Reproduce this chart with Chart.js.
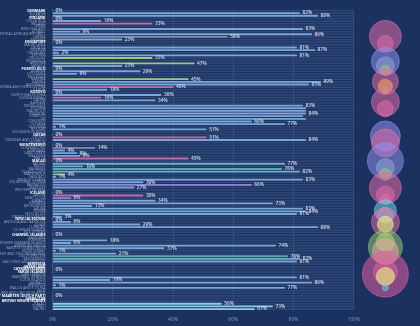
<!DOCTYPE html>
<html>
<head>
<meta charset="utf-8">
<script src="https://cdn.jsdelivr.net/npm/chart.js@4.4.1/dist/chart.umd.min.js"></script>
<style>
  html, body { margin: 0; padding: 0; background: #1b3260; }
  canvas { display: block; }
</style>
</head>
<body>
<canvas id="chart" width="420" height="326"></canvas>
<script>
const countries = [
  'DENMARK', 'SLOVAKIA', 'NORWAY', 'FINLAND', 'COSTA RICA', 'IRELAND', 'OMAN', 'NEW ZEALAND', 'KUWAIT', 'CENTRAL AFRICAN REPUBLIC',
  'LIBERIA', 'PANAMA', 'SINGAPORE', 'MAURITANIA', 'CROATIA', 'GEORGIA', 'PALESTINE', 'ERITREA', 'URUGUAY', 'MONGOLIA',
  'ARMENIA', 'JAMAICA', 'PUERTO RICO', 'ALBANIA', 'LITHUANIA', 'MOLDOVA', 'NAMIBIA', 'GAMBIA', 'BOTSWANA', 'BOSNIA AND HERZEGOVINA',
  'GABON', 'KOSOVO', 'NORTH MACEDONIA', 'GUINEA-BISSAU', 'LATVIA', 'BAHRAIN', 'TIMOR-LESTE', 'ESTONIA', 'MAURITIUS', 'ESWATINI',
  'DJIBOUTI', 'FIJI', 'COMOROS', 'GUYANA', 'SLOVENIA', 'BHUTAN', 'SOLOMON ISLANDS', 'QATAR', 'CYPRUS', 'TRINIDAD AND TOBAGO',
  'REUNION', 'MONTENEGRO', 'LUXEMBOURG', 'SURINAME', 'CABO VERDE', 'MALDIVES', 'MALTA', 'MACAO', 'BRUNEI', 'BELIZE',
  'BAHAMAS', 'GUADELOUPE', 'MARTINIQUE', 'VANUATU', 'FRENCH GUIANA', 'EQUATORIAL GUINEA', 'BARBADOS', 'MAYOTTE', 'WESTERN SAHARA', 'ICELAND',
  'SAMOA', 'SAINT LUCIA', 'KIRIBATI', 'GRENADA', 'MICRONESIA', 'ARUBA', 'TONGA', 'SEYCHELLES', 'FRENCH POLYNESIA', 'NEW CALEDONIA',
  'ANTIGUA AND BARBUDA', 'GUAM', 'CURACAO', 'US VIRGIN ISLANDS', 'ISLE OF MAN', 'CHANNEL ISLANDS', 'ANDORRA', 'DOMINICA', 'NORTHERN MARIANA ISLANDS', 'AMERICAN SAMOA',
  'SAINT KITTS AND NEVIS', 'MONTSERRAT', 'SAINT VINCENT AND THE GRENADINES', 'LIECHTENSTEIN', 'SAN MARINO', 'SAO TOME AND PRINCIPE', 'BERMUDA', 'GREENLAND', 'CAYMAN ISLANDS', 'FAROE ISLANDS',
  'SAINT MARTIN', 'MARSHALL ISLANDS', 'COOK ISLANDS', 'MONACO', 'ANGUILLA', 'WALLIS AND FUTUNA', 'NIUE', 'TURKS AND CAICOS ISLANDS', 'SINT MAARTEN (DUTCH PART)', 'GIBRALTAR',
  'BRITISH VIRGIN ISLANDS', 'PALAU', 'TUVALU', 'NAURU'
];

const shares = [
  0, 82, 88, 0, 16, 33, null, 83, 9, 86,
  58, 23, 0, null, 81, 87, 2, 81, 33, null,
  47, 23, 0, 29, 8, null, 45, 89, 85, 40,
  18, 0, 36, 16, 34, null, 83, 84, 84, 84,
  83, 84, 66, 77, 1, 51, null, 0, 51, 84,
  null, 0, 14, 4, 8, 9, 45, 0, 77, 10,
  76, 82, 4, 1, 83, 30, 66, 27, null, 0,
  30, 6, 34, 73, 13, 83, 84, 81, 3, 0,
  6, 29, 88, null, null, 0, null, 18, 6, 74,
  37, 1, 21, 78, 82, 81, 0, 0, 0, 0,
  null, 81, 19, 86, 1, 77, null, null, 0, 0,
  0, 56, 73, 67
];

const tones = [
  'b', 'b', 'b', 'b', 'b', 'p', 'b', 'b', 'b', 'b',
  's', 'b', 'b', 'b', 'b', 'b', 'b', 'b', 'g', 'b',
  'g', 'b', 'b', 'b', 'b', 'b', 'g', 'b', 'b', 'p',
  'b', 'b', 'b', 'p', 'b', 'b', 'b', 'b', 'b', 'b',
  'b', 'b', 'b', 'b', 'b', 'b', 'b', 'b', 'p', 'b',
  'b', 'b', 's', 'b', 'b', 'b', 'p', 'b', 'b', 'b',
  't', 'b', 'g', 'b', 'b', 'b', 'v', 'b', 'b', 'b',
  'p', 'v', 'b', 'b', 'b', 'b', 'b', 'b', 'b', 'b',
  'b', 'b', 'b', 'b', 'b', 'b', 'b', 'b', 'b', 'b',
  'b', 'b', 'b', 't', 'b', 'b', 'b', 'b', 'b', 'b',
  'b', 'b', 'b', 'b', 'b', 'b', 'b', 'b', 'b', 'b',
  'b', 'c', 'c', 'c'
];

// labels hidden in the original because they collide with a neighbour
const hiddenLabels = [37, 38, 40, 41, 96, 97, 99, 109, 110];

const bubbleX = 110.5;
const bubbleRows  = [2, 5, 13, 15, 17, 22, 24, 26, 31, 34, 46, 49, 57, 60, 63, 69, 72, 74, 79, 81, 84, 85, 93, 95, 97, 106, 107, 108, 113];
const bubbleSizes = [16, 8, 14, 9, 5, 13, 7, 3, 14, 8, 15, 14, 18, 9, 6, 16, 9, 5, 11, 8, 14, 8, 9, 17, 13, 12, 23, 9, 3];
const bubbleTones = ['pink', 'pink', 'violet', 'slate', 'green', 'pink', 'orange', 'green', 'pink', 'pink',
  'violet', 'pink', 'violet', 'slate', 'green', 'pink', 'pink', 'pink', 'cyan', 'cyan',
  'pink', 'yellow', 'lime', 'green', 'peach', 'pink', 'magenta', 'yellow', 'cyan'];

const barColors = { b: '#7aa6d8', c: '#8fcbe8', p: '#c66ca4', v: '#8f84d6', g: '#9bc985', t: '#4fb0a8', s: '#7f8ca6' };
const bubbleColors = {
  pink: 'rgba(232,110,168,0.52)', magenta: 'rgba(225,95,160,0.55)', violet: 'rgba(150,145,240,0.52)',
  slate: 'rgba(150,170,215,0.5)', green: 'rgba(150,205,110,0.52)', lime: 'rgba(205,235,120,0.55)',
  orange: 'rgba(245,165,90,0.6)', cyan: 'rgba(110,210,225,0.55)', yellow: 'rgba(228,235,130,0.65)',
  peach: 'rgba(240,165,165,0.55)'
};

// bubbles sit in their own column, they must not push the chart area in
class ColumnBubble extends Chart.BubbleController {
  getMaxOverflow() { return 0; }
}
ColumnBubble.id = 'columnBubble';
ColumnBubble.defaults = Chart.BubbleController.defaults;
Chart.register(ColumnBubble);

const valueLabels = {
  id: 'valueLabels',
  afterDatasetsDraw(chart) {
    const meta = chart.getDatasetMeta(1);
    const ctx = chart.ctx;
    ctx.save();
    ctx.font = '600 4.8px "Open Sans"';
    ctx.fillStyle = '#d3dcec';
    ctx.textBaseline = 'middle';
    meta.data.forEach((bar, i) => {
      const v = shares[i];
      if (v === null || hiddenLabels.includes(i)) return;
      ctx.fillText(v + '%', bar.x + 3, bar.y);
    });
    ctx.restore();
  }
};

new Chart(document.getElementById('chart'), {
  type: 'bar',
  data: {
    labels: countries,
    datasets: [
      {
        // faint 0-100% track behind each row
        data: countries.map(() => 100),
        backgroundColor: 'rgba(140,170,225,0.17)',
        barThickness: 1,
        grouped: false,
        indexAxis: 'y',
        order: 3
      },
      {
        data: shares,
        backgroundColor: tones.map(t => barColors[t]),
        barThickness: 1.2,
        grouped: false,
        indexAxis: 'y',
        order: 2
      },
      {
        type: 'columnBubble',
        xAxisID: 'x',
        yAxisID: 'yb',
        clip: false,
        data: bubbleRows.map((r, i) => ({ x: bubbleX, y: r, r: bubbleSizes[i] })),
        backgroundColor: bubbleTones.map(t => bubbleColors[t]),
        borderColor: bubbleTones.map(t => bubbleColors[t]),
        borderWidth: 1,
        order: 1
      }
    ]
  },
  options: {
    indexAxis: 'y',
    responsive: false,
    animation: false,
    layout: { padding: { top: 0, right: 2.7, bottom: 0, left: 0 } },
    plugins: { legend: { display: false }, tooltip: { enabled: false } },
    scales: {
      x: {
        type: 'linear',
        min: 0,
        max: 120,
        border: { display: false },
        grid: {
          drawTicks: false,
          color: c => (c.tick && c.tick.value <= 100) ? 'rgba(130,160,215,0.16)' : 'rgba(0,0,0,0)'
        },
        ticks: {
          stepSize: 20,
          padding: 6,
          color: '#8596b6',
          font: { family: 'Open Sans', size: 5 },
          callback: v => v <= 100 ? v + '%' : ''
        },
        afterFit: s => { s.height = 15.6; }
      },
      y: {
        type: 'category',
        grid: { display: false, drawTicks: false },
        border: { display: false },
        ticks: {
          autoSkip: false,
          padding: 7,
          color: c => shares[c.index] === 0 ? '#ffffff' : '#93a2c0',
          font: c => ({ family: 'Open Sans', size: 3.6, weight: shares[c.index] === 0 ? 'bold' : 'normal' })
        },
        afterFit: s => { s.width = 52.5; }
      },
      yb: {
        type: 'linear',
        display: false,
        reverse: true,
        min: -0.5,
        max: countries.length - 0.5
      }
    }
  },
  plugins: [valueLabels]
});
</script>
</body>
</html>
